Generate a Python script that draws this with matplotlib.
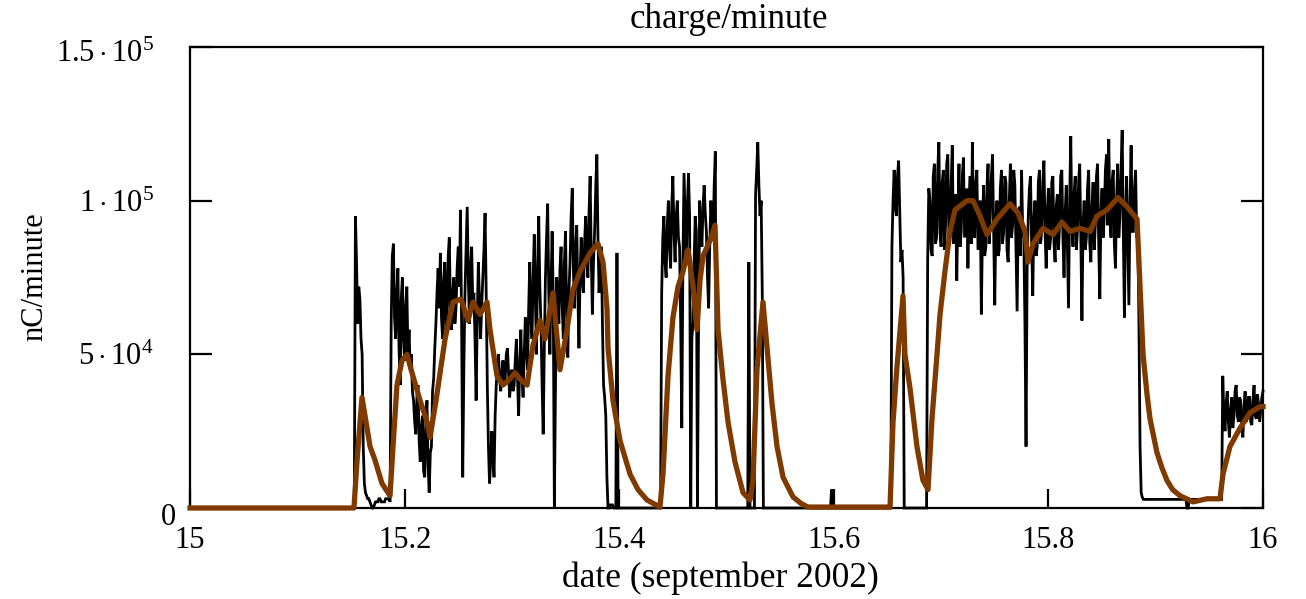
import numpy as np
import matplotlib
matplotlib.use('Agg')
import matplotlib.pyplot as plt
from matplotlib.transforms import ScaledTranslation

plt.rcParams['font.family'] = ['Liberation Serif', 'DejaVu Serif']
plt.rcParams['mathtext.fontset'] = 'custom'
plt.rcParams['mathtext.rm'] = 'Liberation Serif'
plt.rcParams['mathtext.it'] = 'Liberation Serif:italic'
plt.rcParams['mathtext.bf'] = 'Liberation Serif:bold'

# ---------------- data (values in units of 1e3 nC/minute) ----------------
# raw charge per minute, sampled every 1.5 minutes from 15.0 to 16.0
black_start = 15.0
black_step = 1.0 / 960
raw_quiet_1 = [0] * 148
raw_spike_1 = [95, 80, 60, 72, 68, 55, 50, 20, 8, 5, 4, 3, 3, 2, 1, 0, 0, 1, 2, 2,
               2, 3, 3, 2, 2, 2, 2, 3, 3, 3, 3, 2]
raw_fill_1 = [60, 82, 86, 62, 55, 70, 78, 52, 40, 68, 75, 55, 48, 66, 72, 50, 58,
              45, 50, 38, 35, 28, 24, 36, 40, 22, 15, 26, 30, 12, 10, 28, 35, 14,
              5, 18, 20, 38, 42, 52, 60, 70, 78, 65]
raw_fill_2 = [83, 62, 55, 74, 80, 58, 60, 82, 88, 64, 58, 70, 75, 60, 65, 78, 85,
              72, 97, 60, 10, 45, 70, 84, 98, 75, 60, 78, 85, 66, 70, 55, 35, 62,
              80, 68, 55, 66, 75, 84, 96, 70, 40, 20, 8, 15, 25, 18, 10, 30]
raw_fill_3 = [40, 46, 50, 42, 38, 44, 48, 40, 42, 50, 52, 44, 36, 42, 45, 38, 40,
              48, 55, 42, 30, 46, 58, 44, 36, 50, 62, 52, 45, 65, 80, 62, 55, 75,
              89, 68, 50, 78, 95, 72, 60, 40, 24, 52, 75, 88, 99, 70, 50, 72, 90, 68]
raw_fill_4 = [0, 40, 75, 68, 60, 78, 85, 66, 55, 80, 90, 62, 49, 70, 80, 95, 104,
              78, 65, 85, 92, 70, 52, 76, 88, 74, 70, 86, 95, 80, 75, 96, 108, 82,
              63, 80, 90, 104, 115, 88, 70, 80, 85, 60, 40, 36, 30, 10, 0, 0, 1, 1,
              1, 0, 0, 0, 83, 0, 0, 0]
raw_quiet_2 = [0] * 36
raw_fill_5 = [70, 88, 95, 80, 75, 92, 100, 85, 78, 98, 108, 90, 80, 95, 100, 88,
              85, 60, 26, 80, 109, 95, 80, 98, 109, 95, 0, 55, 60, 80, 95, 90, 0,
              60, 100, 90, 85, 98, 105, 96, 90, 75, 65, 85, 100, 92, 88, 105, 116,
              0, 0, 0]
raw_quiet_3 = [0] * 26
raw_spike_2 = [80, 0, 0, 0, 0, 0, 102, 110, 119, 105, 95, 100, 70, 0, 0, 0]
raw_quiet_4 = [0] * 58 + [6] + [0] * 53
raw_spike_3 = [85, 100, 110, 98, 95, 108, 113, 96, 80, 84, 75, 0]
raw_quiet_5 = [0] * 20
raw_fill_6 = [81, 104, 100, 84, 82, 108, 112, 86, 88, 110, 119, 90, 85, 106, 110, 84, 92, 112, 115, 88,
              90, 105, 118, 86, 95, 102, 74, 96, 112, 85, 90, 108, 114, 88, 96, 104, 78, 100, 108, 86,
              119, 92, 88, 106, 110, 84, 92, 100, 63, 90, 105, 82, 85, 104, 112, 86, 95, 108, 115, 90,
              66, 94, 100, 82, 84, 104, 110, 86, 90, 108, 106, 84, 80, 100, 112, 88, 92, 110, 105, 84,
              64, 96, 98, 82, 110, 90, 88, 60, 20, 80, 95, 104, 108, 86, 69, 94, 100, 82, 85, 106,
              110, 86, 90, 106, 113, 90, 78, 96, 104, 84, 88, 106, 108, 86, 80, 98, 102, 84, 92, 108,
              110, 88, 75, 96, 105, 84, 65, 100, 121, 92, 85, 102, 108, 84, 90, 106, 112, 88, 61, 92,
              100, 84, 88, 104, 110, 86, 80, 98, 106, 84, 92, 108, 112, 86, 68, 96, 104, 88, 95, 110,
              115, 92, 120, 96, 88, 106, 110, 86, 78, 100, 112, 88, 95, 110, 123, 90, 62, 94, 108, 86,
              66, 98, 118, 90, 90, 104, 110, 88]
raw_quiet_6 = [90, 60, 20, 5, 3.5] + [2.8] * 39 + [0, 0] + [2.8] * 30
raw_fill_7 = [43, 30, 25, 34, 38, 28, 23, 32, 36, 26, 30, 38, 40, 30, 28, 36, 35,
              26, 23, 33, 38, 28, 30, 36, 36, 28, 27, 35, 40, 30, 29, 37, 34, 28,
              32, 36, 38]

# smoothed charge per minute (date, value)
smooth_date = [15.0, 15.1528, 15.1556, 15.1603, 15.1640, 15.1678, 15.1724, 15.1789,
               15.1864, 15.1892, 15.1929, 15.1976, 15.2022, 15.2069, 15.2144, 15.2209,
               15.2237, 15.2293, 15.2377, 15.2451, 15.2526, 15.2591, 15.2637, 15.2703,
               15.2768, 15.2796, 15.2861, 15.2917, 15.2982, 15.3029, 15.3075, 15.3141,
               15.3197, 15.3262, 15.3308, 15.3383, 15.3448, 15.3513, 15.3569, 15.3635,
               15.3728, 15.3802, 15.3849, 15.3886, 15.3896, 15.3942, 15.4007, 15.4101,
               15.4175, 15.4259, 15.4380, 15.4408, 15.4455, 15.4501, 15.4548, 15.4595,
               15.4641, 15.4688, 15.4725, 15.4753, 15.4781, 15.4846, 15.4893, 15.4921,
               15.4967, 15.5014, 15.5079, 15.5154, 15.5219, 15.5247, 15.5284, 15.5340,
               15.5378, 15.5424, 15.5471, 15.5527, 15.5620, 15.5694, 15.5759, 15.6524,
               15.6552, 15.6589, 15.6645, 15.6663, 15.6710, 15.6775, 15.6831, 15.6878,
               15.6915, 15.6962, 15.6990, 15.7036, 15.7083, 15.7130, 15.7241, 15.7297,
               15.7363, 15.7428, 15.7521, 15.7642, 15.7717, 15.7782, 15.7810, 15.7857,
               15.7950, 15.8043, 15.8127, 15.8201, 15.8294, 15.8388, 15.8453, 15.8546,
               15.8649, 15.8733, 15.8826, 15.8854, 15.8882, 15.8919, 15.8947, 15.9012,
               15.9059, 15.9105, 15.9157, 15.9226, 15.9348, 15.9478, 15.9599, 15.9627,
               15.9692, 15.9786, 15.9879, 15.9972, 16.0]
smooth_value = [0, 0, 15, 36, 28, 20, 15.6, 8, 4, 20, 40, 48, 50, 44, 35, 28, 23, 35,
                55, 67, 68, 61, 67, 63, 67, 58, 43, 40, 42, 44, 42, 40, 53, 61, 55,
                70, 45, 58, 71, 77, 83, 86, 80, 65, 52, 35, 22, 11,
                6, 2.6, 0.3, 11, 43, 62, 72, 77, 84, 72, 58, 74, 82, 87, 92, 58, 42,
                28, 15, 5, 2.6, 9, 45, 67, 52, 34, 20, 10, 3.6, 1.5, 0.3, 0.3, 28, 46,
                69, 50, 39, 20, 9, 6, 29, 50, 63, 77, 90, 97, 100, 100, 95, 89, 94,
                99, 96, 90, 80, 86, 91, 89, 93, 90, 91, 90, 95, 97, 101, 98, 94, 72,
                50, 37, 29, 18, 13, 9, 6, 4, 2, 3, 3, 11, 20, 26, 31, 33, 33]

y_ticks = [0, 5e4, 1e5, 1.5e5]
y_labels = [r'$0$', r'$5\cdot10^4$', r'$1\cdot10^5$', r'$1.5\cdot10^5$']
x_ticks = [15, 15.2, 15.4, 15.6, 15.8, 16]
x_labels = ['15', '15.2', '15.4', '15.6', '15.8', '16']

# ---------------- build ----------------
raw_value = np.array(raw_quiet_1 + raw_spike_1 + raw_fill_1 + raw_fill_2 + raw_fill_3 +
                     raw_fill_4 + raw_quiet_2 + raw_fill_5 + raw_quiet_3 + raw_spike_2 +
                     raw_quiet_4 + raw_spike_3 + raw_quiet_5 + raw_fill_6 + raw_quiet_6 +
                     raw_fill_7, dtype=float) * 1e3
raw_date = black_start + np.arange(len(raw_value)) * black_step

W, H = 1306, 599
fig = plt.figure(figsize=(W / 100, H / 100), dpi=100)
ax = fig.add_axes([190 / W, 91 / H, 1073 / W, 461 / H])

ax.plot(raw_date, raw_value, color='black', lw=2.0, zorder=3, clip_on=False,
        solid_joinstyle='miter')
ax.plot(smooth_date, np.array(smooth_value) * 1e3, color='#7f3a00', lw=3.8,
        zorder=4, clip_on=False, solid_joinstyle='round')

ax.set_xlim(15, 16)
ax.set_ylim(0, 1.5e5)
for s in ax.spines.values():
    s.set_linewidth(1.6)
    s.set_zorder(2)

ax.set_yticks(y_ticks)
ax.set_yticklabels(y_labels, fontsize=22)
ax.set_xticks(x_ticks)
ax.set_xticklabels(x_labels, fontsize=22)
ax.tick_params(axis='y', direction='in', length=16, width=1.6, left=True, right=True, pad=26)
ax.tick_params(axis='x', direction='in', length=14, width=1.6, top=False, pad=13)

# "0" label sits closer to the axis and lower in the original
ylabs = ax.get_yticklabels()
ylabs[0].set_transform(ylabs[0].get_transform() + ScaledTranslation(0.22, -0.06, fig.dpi_scale_trans))
ylabs[3].set_transform(ylabs[3].get_transform() + ScaledTranslation(0.0, -0.04, fig.dpi_scale_trans))

fig.text(729 / W, 1 - 20 / H, 'charge/minute', ha='center', va='center', fontsize=25)
fig.text(720 / W, 1 - 578 / H, 'date (september 2002)', ha='center', va='center', fontsize=25.5)
fig.text(35 / W, 1 - 277 / H, 'nC/minute', ha='center', va='center', fontsize=22, rotation=90)

fig.savefig('out.png', dpi=100)
